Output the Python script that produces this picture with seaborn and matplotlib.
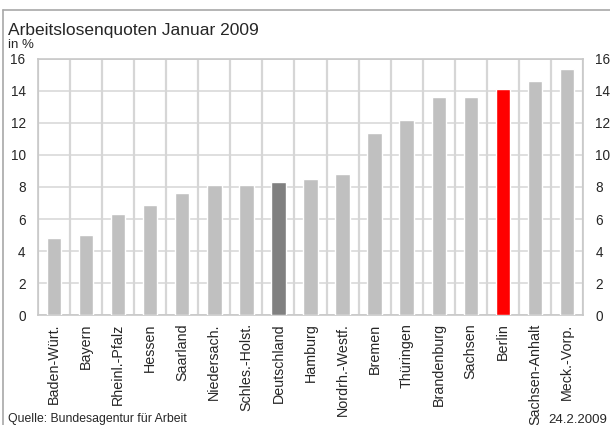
import matplotlib
matplotlib.use("Agg")
import matplotlib.pyplot as plt
import seaborn as sns
import pandas as pd
import numpy as np

# Unemployment rates by federal state, January 2009
laender = ["Baden-Würt.", "Bayern", "Rheinl.-Pfalz", "Hessen", "Saarland",
           "Niedersach.", "Schles.-Holst.", "Deutschland", "Hamburg",
           "Nordrh.-Westf.", "Bremen", "Thüringen", "Brandenburg", "Sachsen",
           "Berlin", "Sachsen-Anhalt", "Meck.-Vorp."]
quoten = [4.8, 5.0, 6.3, 6.9, 7.6, 8.1, 8.1, 8.3, 8.5, 8.8,
          11.4, 12.2, 13.6, 13.6, 14.1, 14.6, 15.4]
y_ticks = [0, 2, 4, 6, 8, 10, 12, 14, 16]

farben = {name: "#c0c0c0" for name in laender}
farben["Deutschland"] = "#808080"
farben["Berlin"] = "#ff0000"

df = pd.DataFrame({"Land": laender, "Quote": quoten})

sns.set_theme(style="white")
plt.rcParams["font.family"] = ["Liberation Sans", "DejaVu Sans"]

fig = plt.figure(figsize=(6.1, 4.25), dpi=100)
ax = fig.add_axes([0.0623, 0.2588, 0.8934, 0.6024])

sns.barplot(data=df, x="Land", y="Quote", hue="Land", palette=farben,
            order=laender, width=0.45, saturation=1, legend=False, ax=ax,
            zorder=3)

ax.set_xlim(-0.5, len(laender) - 0.5)
ax.set_ylim(0, 16)
ax.set_yticks(y_ticks)
ax.set_yticklabels([str(t) for t in y_ticks])
ax.set_xticks(range(len(laender)))
ax.set_xticklabels(laender, rotation=90, fontsize=10.3)
ax.set_xlabel("")
ax.set_ylabel("")

# grid: horizontal at value ticks, vertical between categories
for t in y_ticks:
    ax.axhline(t, color="#d9d9d9", lw=1.2, zorder=1)
for b in np.arange(-0.5, len(laender), 1.0):
    ax.axvline(b, color="#d6d6d6", lw=1.6, zorder=1)

for s in ax.spines.values():
    s.set_color("#c8c8c8")
    s.set_linewidth(1.2)

ax.tick_params(axis="y", which="both", length=0, labelsize=9.8,
               labelleft=True, labelright=True, pad=9)
ax.tick_params(axis="x", length=0, pad=6)

# figure texts
fig.text(0.013, 0.929, "Arbeitslosenquoten Januar 2009", fontsize=12.5,
         ha="left", va="center")
fig.text(0.013, 0.893, "in %", fontsize=9.5, ha="left", va="center")
fig.text(0.013, 0.015, "Quelle: Bundesagentur für Arbeit", fontsize=8.8,
         ha="left", va="center")
fig.text(0.995, 0.012, "24.2.2009", fontsize=9.5, ha="right", va="center")

# outer frame lines
fig.add_artist(plt.Line2D([0.005, 1.0], [0.976, 0.976],
                          transform=fig.transFigure, color="#a8a8a8", lw=1.2))
fig.add_artist(plt.Line2D([0.005, 0.005], [0.0, 0.976],
                          transform=fig.transFigure, color="#a8a8a8", lw=1.2))

fig.savefig("out.png", dpi=100)
